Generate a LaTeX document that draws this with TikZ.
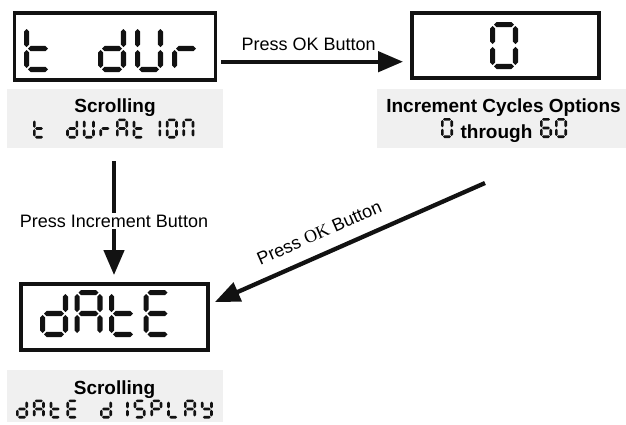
\documentclass[tikz,border=0pt]{standalone}
\usepackage{fontspec}
\setmainfont{Liberation Sans}
\newfontfamily\serifok{Liberation Serif}
\usetikzlibrary{arrows.meta,calc}
\definecolor{panelgray}{RGB}{240,240,240}
\definecolor{segblack}{RGB}{18,18,18}

% seven-segment glyph machinery
\def\ssW{28}\def\ssHt{47}\def\ssT{4.5}\def\ssG{1.2}
\newcommand\sssize[4]{\def\ssW{#1}\def\ssHt{#2}\def\ssT{#3}\def\ssG{#4}}
\newcommand\hseg[3]{\fill[segblack] ({#2},{#1}) -- ({#2+\ssT/2},{#1-\ssT/2}) -- ({#3-\ssT/2},{#1-\ssT/2}) -- ({#3},{#1}) -- ({#3-\ssT/2},{#1+\ssT/2}) -- ({#2+\ssT/2},{#1+\ssT/2}) -- cycle;}
\newcommand\vseg[3]{\fill[segblack] ({#1},{#2}) -- ({#1+\ssT/2},{#2+\ssT/2}) -- ({#1+\ssT/2},{#3-\ssT/2}) -- ({#1},{#3}) -- ({#1-\ssT/2},{#3-\ssT/2}) -- ({#1-\ssT/2},{#2+\ssT/2}) -- cycle;}
\newcommand\ssSa{\hseg{\ssT/2}{\ssT/2+\ssG}{\ssW-\ssT/2-\ssG}}
\newcommand\ssSg{\hseg{\ssHt/2}{\ssT/2+\ssG}{\ssW-\ssT/2-\ssG}}
\newcommand\ssSd{\hseg{\ssHt-\ssT/2}{\ssT/2+\ssG}{\ssW-\ssT/2-\ssG}}
\newcommand\ssSf{\vseg{\ssT/2}{\ssT/2+\ssG}{\ssHt/2-\ssG}}
\newcommand\ssSe{\vseg{\ssT/2}{\ssHt/2+\ssG}{\ssHt-\ssT/2-\ssG}}
\newcommand\ssSb{\vseg{\ssW-\ssT/2}{\ssT/2+\ssG}{\ssHt/2-\ssG}}
\newcommand\ssSc{\vseg{\ssW-\ssT/2}{\ssHt/2+\ssG}{\ssHt-\ssT/2-\ssG}}
\newcommand\ssSnone{}
\def\ssCt{d,e,f,g}
\def\ssCd{b,c,d,e,g}
\def\ssCU{b,c,d,e,f}
\def\ssCr{e,g}
\expandafter\def\csname ssC0\endcsname{a,b,c,d,e,f}
\expandafter\def\csname ssC6\endcsname{a,c,d,e,f,g}
\def\ssCO{a,b,c,d,e,f}
\def\ssCA{a,b,c,e,f,g}
\def\ssCE{a,d,e,f,g}
\def\ssCI{b,c}
\def\ssCN{a,b,c,e,f}
\def\ssCS{a,c,d,f,g}
\def\ssCP{a,b,e,f,g}
\def\ssCL{d,e,f}
\def\ssCY{b,c,d,f,g}
\def\ssCspace{none}
\newcommand\ssstr[4]{%
  \foreach \ssc [count=\ssi from 0] in {#4}{%
    \edef\sslist{\csname ssC\ssc\endcsname}%
    \begin{scope}[shift={({#1+\ssi*#3},{#2})}]
      \foreach \ssx in \sslist {\csname ssS\ssx\endcsname}
    \end{scope}}}

\begin{document}
\begin{tikzpicture}[x=1pt,y=-1pt,
  lcd/.style={draw=segblack, line width=3.8pt, inner sep=0pt},
  panel/.style={fill=panelgray, draw=none, inner sep=0pt, outer sep=0pt},
  captxt/.style={font=\fontsize{19}{22}\selectfont\bfseries, inner sep=0pt},
  lbl/.style={font=\fontsize{18}{21}\selectfont, inner sep=0pt},
  arr/.style={draw=segblack, line width=4.3pt, -{Triangle[length=25pt,width=20pt]}}]
\useasboundingbox (0,0) rectangle (626,424);

% grey caption panels
\node[panel, minimum width=216pt, minimum height=59pt] (scr1) at (115,118.5) {};
\node[panel, minimum width=249pt, minimum height=59pt] (opts) at (501.5,118.5) {};
\node[panel, minimum width=216pt, minimum height=52pt] (scr3) at (115,396) {};

% display boxes
\node[lcd, minimum width=201pt, minimum height=67pt] (tdur) at (115,46.5) {};
\node[lcd, minimum width=187pt, minimum height=65pt] (cyc) at (505.5,45.5) {};
\node[lcd, minimum width=187pt, minimum height=66pt] (date) at (114.5,317) {};

% caption texts
\node[captxt, anchor=base] (scr1t) at (115,112.5) {Scrolling};
\node[captxt, anchor=base] (optst) at (503.5,112) {Increment Cycles Options};
\node[captxt, anchor=base] (thr) at (496.5,138) {through};
\node[captxt, anchor=base] (scr3t) at (114.5,394.5) {Scrolling};

% large seven-segment texts
\sssize{28}{47}{5.2}{1.4}
\ssstr{24}{25}{37}{t,space,d,U,r}
\ssstr{490}{22}{37}{0}
\ssstr{40}{290}{34.5}{d,A,t,E}

% small seven-segment texts
\sssize{12}{20}{2.7}{0.7}
\ssstr{33}{118.5}{16.6}{t,space,d,U,r,A,t,I,O,N}
\ssstr{441}{118}{15}{0}
\ssstr{540}{118}{15}{6,0}
\sssize{12}{19}{2.7}{0.7}
\ssstr{16}{399.5}{16.8}{d,A,t,E,space,d,I,S,P,L,A,Y}

% connectors
\coordinate (hy) at (0,61.7);
\coordinate (dstart) at (485,183);
\draw[arr] ($(tdur.east |- hy)+(4,0)$) -- node[lbl, pos=0.48, anchor=base, yshift=11.7pt] (l1) {Press OK Button} ($(cyc.west |- hy)+(-7,0)$);
\draw[arr] ($(scr1.south)+(-1,13)$) -- node[lbl, pos=0.58, anchor=base, fill=white, inner sep=2pt] (l2) {Press Increment Button} ($(date.north)+(-0.5,-7)$);
\draw[arr] (dstart) -- node[lbl, sloped, pos=0.582, anchor=south, outer ysep=15pt] (l3) {Press {\serifok OK} Button} ($(date.east)+(5,-15)$);
\end{tikzpicture}
\end{document}
